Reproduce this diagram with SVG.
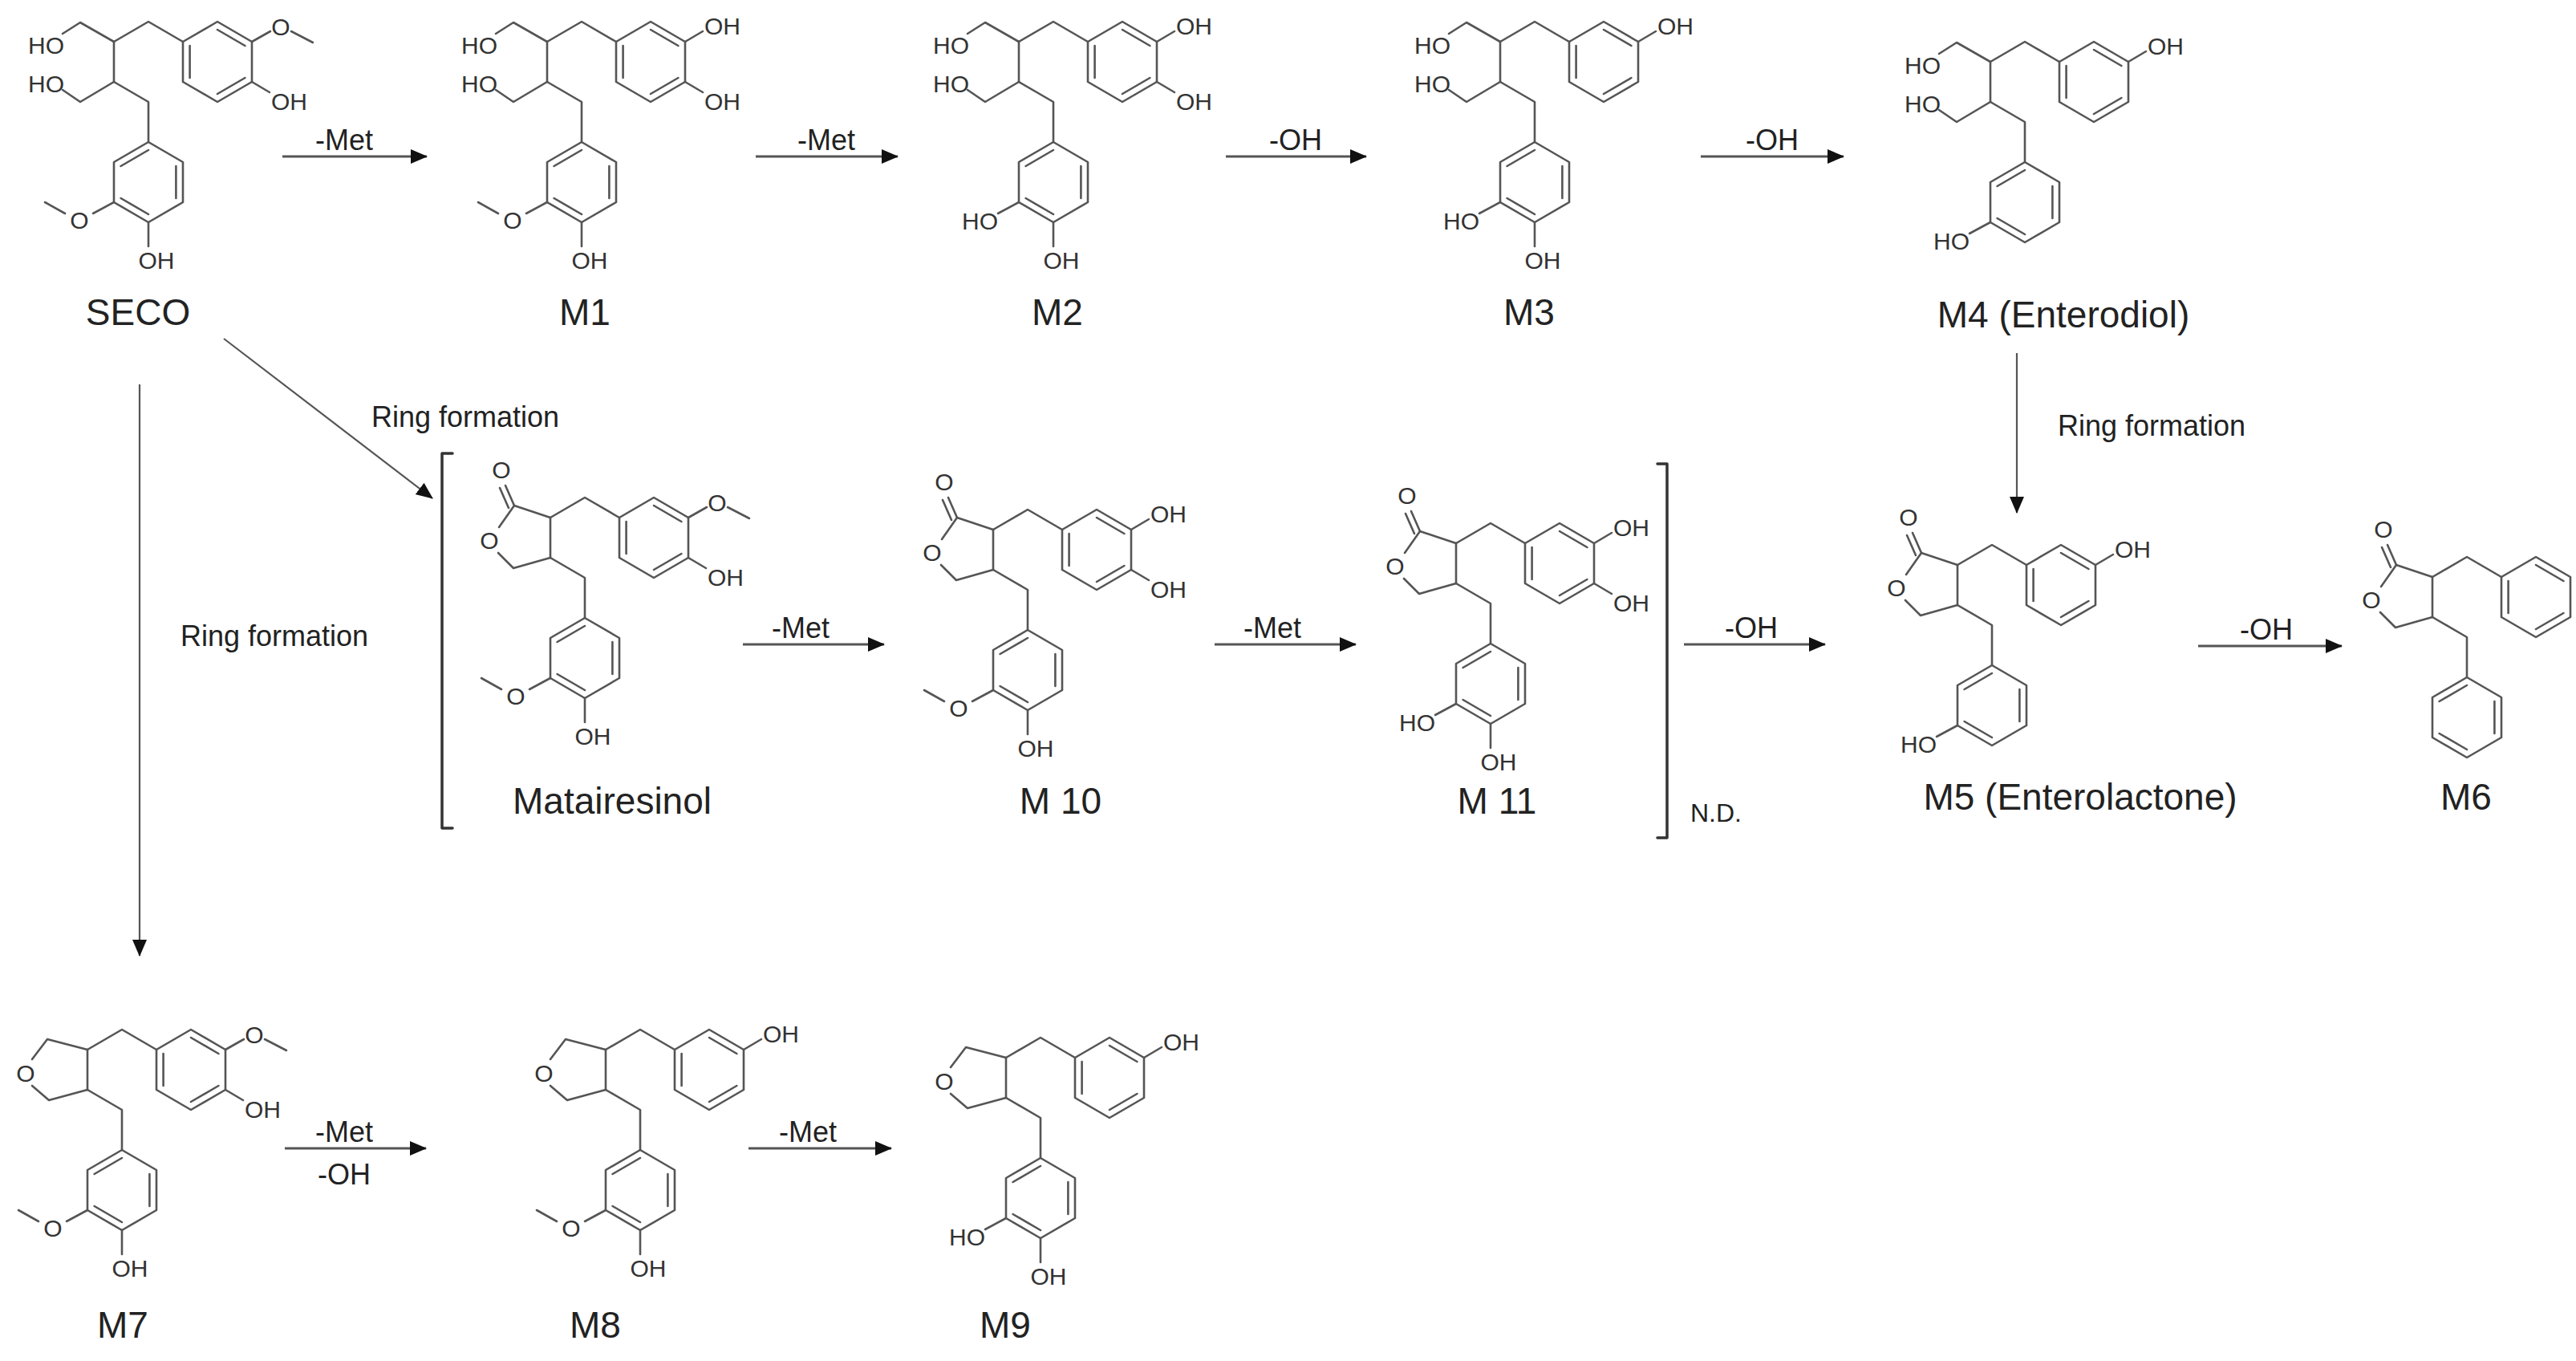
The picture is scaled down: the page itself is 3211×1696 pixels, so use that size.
<svg xmlns="http://www.w3.org/2000/svg" xmlns:xlink="http://www.w3.org/1999/xlink" width="3211" height="1696" viewBox="0 0 3211 1696">
<style>
.b{stroke:#555;stroke-width:2.6;fill:none;stroke-linecap:round;stroke-linejoin:round}
.a{font-family:"Liberation Sans",Arial,sans-serif;font-size:30px;fill:#333}
.m{text-anchor:middle}
.e{text-anchor:end}
.lbl{font-family:"Liberation Sans",Arial,sans-serif;font-size:46px;fill:#222;text-anchor:middle}
.al{font-family:"Liberation Sans",Arial,sans-serif;font-size:36px;fill:#222;text-anchor:middle}
.ar{stroke:#555;stroke-width:3;fill:none}
</style>
<defs>
<marker id="ah" markerWidth="22" markerHeight="22" refX="20" refY="11" orient="auto" markerUnits="userSpaceOnUse"><path d="M0,2 L21,11 L0,20 z" fill="#111"/></marker>
<g id="ru"><polyline class="b" points="0,0 43,-25 86,0"/><polygon class="b" points="86,0 129,-25 172,0 172,50 129,75 86,50"/><path class="b" d="M94.6,5 V45 M129,-15 L163.4,5 M163.4,45 L129,65"/></g>
<g id="rl"><polyline class="b" points="0,50 43,75 43,125"/><polygon class="b" points="43,125 86,150 86,200 43,225 0,200 0,150"/><path class="b" d="M43,135 L8.6,155 M77.4,155 V195 M43,215 L8.6,195"/></g>
<g id="core"><line class="b" x1="0" y1="0" x2="0" y2="50"/><use href="#ru"/><use href="#rl"/></g>
<g id="diol"><polyline class="b" points="-64,-10 -42,-24 0,0"/><polyline class="b" points="-64,60 -42,75 0,50"/><text class="a e" x="-62" y="15">HO</text><text class="a e" x="-62" y="63">HO</text></g>
<g id="lac"><polyline class="b" points="0,0 -45,-15 -64,12"/><polyline class="b" points="-65,44 -46,63 0,50"/><path class="b" d="M-45,-15 L-56,-40 M-52,-12 L-63,-37"/><text class="a m" x="-61" y="-49">O</text><text class="a m" x="-76" y="39">O</text></g>
<g id="fur"><polyline class="b" points="0,0 -50,-13 -69,12"/><polyline class="b" points="-69,45 -48,63 0,50"/><text class="a m" x="-77" y="40">O</text></g>
<g id="uOMe"><path class="b" d="M172,0 L195,-13 M221,-13 L248,1"/><text class="a m" x="208" y="-8">O</text></g>
<g id="uOH3"><path class="b" d="M172,0 L194,-13"/><text class="a" x="196" y="-9">OH</text></g>
<g id="uOH4"><path class="b" d="M172,50 L194,63"/><text class="a" x="196" y="85">OH</text></g>
<g id="lOMe"><path class="b" d="M0,200 L-26,214 M-61,214 L-86,200"/><text class="a m" x="-43" y="233">O</text></g>
<g id="lHO"><path class="b" d="M0,200 L-26,214"/><text class="a e" x="-26" y="234">HO</text></g>
<g id="lOH4"><path class="b" d="M43,225 L43,255"/><text class="a m" x="53" y="283">OH</text></g>
</defs>
<rect width="3211" height="1696" fill="#fff"/>

<g id="SECO" transform="translate(142,52)"><use href="#core"/><use href="#diol"/><use href="#uOMe"/><use href="#uOH4"/><use href="#lOMe"/><use href="#lOH4"/></g>
<g id="M1" transform="translate(682,52)"><use href="#core"/><use href="#diol"/><use href="#uOH3"/><use href="#uOH4"/><use href="#lOMe"/><use href="#lOH4"/></g>
<g id="M2" transform="translate(1270,52)"><use href="#core"/><use href="#diol"/><use href="#uOH3"/><use href="#uOH4"/><use href="#lHO"/><use href="#lOH4"/></g>
<g id="M3" transform="translate(1870,52)"><use href="#core"/><use href="#diol"/><use href="#uOH3"/><use href="#lHO"/><use href="#lOH4"/></g>
<g id="M4" transform="translate(2481,77)"><use href="#core"/><use href="#diol"/><use href="#uOH3"/><use href="#lHO"/></g>
<g id="Matairesinol" transform="translate(686,645)"><use href="#core"/><use href="#lac"/><use href="#uOMe"/><use href="#uOH4"/><use href="#lOMe"/><use href="#lOH4"/></g>
<g id="M10" transform="translate(1238,660)"><use href="#core"/><use href="#lac"/><use href="#uOH3"/><use href="#uOH4"/><use href="#lOMe"/><use href="#lOH4"/></g>
<g id="M11" transform="translate(1815,677)"><use href="#core"/><use href="#lac"/><use href="#uOH3"/><use href="#uOH4"/><use href="#lHO"/><use href="#lOH4"/></g>
<g id="M5" transform="translate(2440,704)"><use href="#core"/><use href="#lac"/><use href="#uOH3"/><use href="#lHO"/></g>
<g id="M6" transform="translate(3032,719)"><use href="#core"/><use href="#lac"/></g>
<g id="M7" transform="translate(109,1308)"><use href="#core"/><use href="#fur"/><use href="#uOMe"/><use href="#uOH4"/><use href="#lOMe"/><use href="#lOH4"/></g>
<g id="M8" transform="translate(755,1308)"><use href="#core"/><use href="#fur"/><use href="#uOH3"/><use href="#lOMe"/><use href="#lOH4"/></g>
<g id="M9" transform="translate(1254,1318)"><use href="#core"/><use href="#fur"/><use href="#uOH3"/><use href="#lHO"/><use href="#lOH4"/></g>

<g id="labels">
<text class="lbl" x="172" y="405">SECO</text>
<text class="lbl" x="729" y="405">M1</text>
<text class="lbl" x="1318" y="405">M2</text>
<text class="lbl" x="1906" y="405">M3</text>
<text class="lbl" x="2572" y="408">M4 (Enterodiol)</text>
<text class="lbl" x="763" y="1014">Matairesinol</text>
<text class="lbl" x="1322" y="1014">M 10</text>
<text class="lbl" x="1866" y="1014">M 11</text>
<text class="lbl" x="2593" y="1009">M5 (Enterolactone)</text>
<text class="lbl" x="3074" y="1009">M6</text>
<text class="lbl" x="153" y="1667">M7</text>
<text class="lbl" x="742" y="1667">M8</text>
<text class="lbl" x="1253" y="1667">M9</text>
<text x="2107" y="1024" style="font-family:'Liberation Sans',Arial,sans-serif;font-size:32px;fill:#222">N.D.</text>
</g>

<g id="brackets">
<path class="b" style="stroke:#333;stroke-width:3.5" d="M564,565 H551 V1032 H564"/>
<path class="b" style="stroke:#333;stroke-width:3.5" d="M2066,578 H2078 V1044 H2066"/>
</g>

<g id="connectors">
<line class="ar" x1="352" y1="195" x2="532" y2="195" marker-end="url(#ah)"/>
<line class="ar" x1="942" y1="195" x2="1119" y2="195" marker-end="url(#ah)"/>
<line class="ar" x1="1528" y1="195" x2="1703" y2="195" marker-end="url(#ah)"/>
<line class="ar" x1="2120" y1="195" x2="2298" y2="195" marker-end="url(#ah)"/>
<line class="ar" x1="279" y1="422" x2="539" y2="621" marker-end="url(#ah)" style="stroke-width:2.2"/>
<line class="ar" x1="174" y1="479" x2="174" y2="1191" marker-end="url(#ah)" style="stroke-width:2.2"/>
<line class="ar" x1="2514" y1="440" x2="2514" y2="639" marker-end="url(#ah)" style="stroke-width:2.2"/>
<line class="ar" x1="926" y1="803" x2="1102" y2="803" marker-end="url(#ah)"/>
<line class="ar" x1="1514" y1="803" x2="1690" y2="803" marker-end="url(#ah)"/>
<line class="ar" x1="2099" y1="803" x2="2275" y2="803" marker-end="url(#ah)"/>
<line class="ar" x1="2740" y1="805" x2="2919" y2="805" marker-end="url(#ah)"/>
<line class="ar" x1="355" y1="1431" x2="531" y2="1431" marker-end="url(#ah)"/>
<line class="ar" x1="933" y1="1431" x2="1111" y2="1431" marker-end="url(#ah)"/>
<text class="al" x="429" y="187">-Met</text>
<text class="al" x="1030" y="187">-Met</text>
<text class="al" x="1615" y="187">-OH</text>
<text class="al" x="2209" y="187">-OH</text>
<text class="al" x="580" y="532">Ring formation</text>
<text class="al" x="342" y="805">Ring formation</text>
<text class="al" x="2682" y="543">Ring formation</text>
<text class="al" x="998" y="795">-Met</text>
<text class="al" x="1586" y="795">-Met</text>
<text class="al" x="2183" y="795">-OH</text>
<text class="al" x="2825" y="797">-OH</text>
<text class="al" x="429" y="1423">-Met</text>
<text class="al" x="429" y="1476">-OH</text>
<text class="al" x="1007" y="1423">-Met</text>
</g>
</svg>
